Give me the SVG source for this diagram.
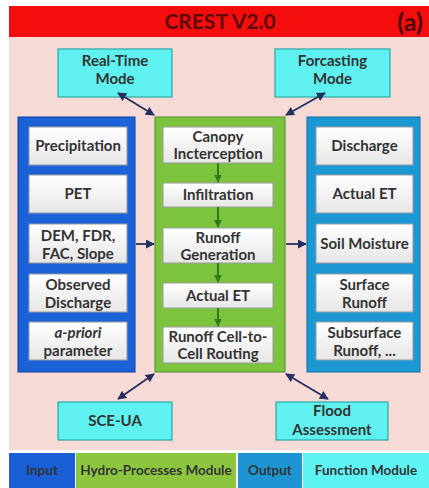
<svg xmlns="http://www.w3.org/2000/svg" width="429" height="488" viewBox="0 0 429 488">
<style>
text{font-family:Lato,"Open Sans","Liberation Sans",sans-serif;font-weight:bold;fill:#333;text-anchor:middle}
.t{font-size:15px}
.l{font-size:13.5px}
.wb{fill:url(#wg);stroke:#9a9a9a;stroke-width:1}
.fm{fill:#5ff0f0;stroke:#2aa7a7;stroke-width:1.2}
.lnk{stroke:#25305e;stroke-width:1.8;fill:none}
.gl{stroke:#2f7a1e;stroke-width:2;fill:none}
</style>
<defs>
<linearGradient id="wg" x1="0" y1="0" x2="0" y2="1">
<stop offset="0" stop-color="#ffffff"/><stop offset="1" stop-color="#e6e6e6"/>
</linearGradient>
<marker id="ah" viewBox="0 0 10 10" refX="9" refY="5" markerWidth="5" markerHeight="5" orient="auto-start-reverse">
<path d="M0,0 L10,5 L0,10 z" fill="#25305e"/>
</marker>
<marker id="ga" viewBox="0 0 10 10" refX="9" refY="5" markerWidth="4" markerHeight="4" orient="auto">
<path d="M0,0 L10,5 L0,10 z" fill="#2f7a1e"/>
</marker>
</defs>
<rect width="429" height="488" fill="#ffffff"/>
<rect x="9" y="37" width="420" height="413" fill="#f6dad6"/>
<g id="header">
<rect x="9" y="6" width="420" height="31" fill="#f30d0d"/>
<text x="220" y="29" style="font-size:21px;fill:#5e0808">CREST V2.0</text>
<text x="410" y="31" style="font-size:25px;fill:#4a0606">(a)</text>
</g>
<g id="input-panel">
<rect x="18" y="117" width="117" height="255" fill="#1b62d8" stroke="#0e3f9a" stroke-width="1"/>
<rect class="wb" x="29" y="127" width="98" height="38"/>
<text class="t" x="78" y="151">Precipitation</text>
<rect class="wb" x="29" y="175" width="98" height="38"/>
<text class="t" x="78" y="199">PET</text>
<rect class="wb" x="29" y="224" width="98" height="39"/>
<text class="t" x="78" y="241">DEM, FDR,</text>
<text class="t" x="78" y="259">FAC, Slope</text>
<rect class="wb" x="29" y="274" width="98" height="38"/>
<text class="t" x="78" y="290">Observed</text>
<text class="t" x="78" y="308">Discharge</text>
<rect class="wb" x="29" y="322" width="98" height="38"/>
<text class="t" x="78" y="338" style="font-style:italic">a-priori</text>
<text class="t" x="78" y="356">parameter</text>
</g>
<g id="hydro-panel">
<rect x="155" y="117" width="130" height="255" fill="#7cc43e" stroke="#4f8a2a" stroke-width="1"/>
<rect class="wb" x="163" y="127" width="110" height="36"/>
<text class="t" x="218" y="142">Canopy</text>
<text class="t" x="218" y="159">Incterception</text>
<rect class="wb" x="163" y="183" width="110" height="24"/>
<text class="t" x="218" y="200">Infiltration</text>
<rect class="wb" x="163" y="228" width="110" height="35"/>
<text class="t" x="218" y="243">Runoff</text>
<text class="t" x="218" y="260">Generation</text>
<rect class="wb" x="163" y="283" width="110" height="25"/>
<text class="t" x="218" y="301">Actual ET</text>
<rect class="wb" x="163" y="327" width="110" height="36"/>
<text class="t" x="218" y="342">Runoff Cell-to-</text>
<text class="t" x="218" y="359">Cell Routing</text>
<line class="gl" x1="218" y1="163" x2="218" y2="182" marker-end="url(#ga)"/>
<line class="gl" x1="218" y1="207" x2="218" y2="227" marker-end="url(#ga)"/>
<line class="gl" x1="218" y1="263" x2="218" y2="282" marker-end="url(#ga)"/>
<line class="gl" x1="218" y1="308" x2="218" y2="326" marker-end="url(#ga)"/>
</g>
<g id="output-panel">
<rect x="307" y="117" width="113" height="255" fill="#1b97d4" stroke="#0f6c9e" stroke-width="1"/>
<rect class="wb" x="316" y="127" width="97" height="38"/>
<text class="t" x="364.5" y="151">Discharge</text>
<rect class="wb" x="316" y="175" width="97" height="38"/>
<text class="t" x="364.5" y="199">Actual ET</text>
<rect class="wb" x="316" y="224" width="97" height="39"/>
<text class="t" x="364.5" y="249">Soil Moisture</text>
<rect class="wb" x="316" y="274" width="97" height="38"/>
<text class="t" x="364.5" y="290">Surface</text>
<text class="t" x="364.5" y="308">Runoff</text>
<rect class="wb" x="316" y="322" width="97" height="38"/>
<text class="t" x="364.5" y="338">Subsurface</text>
<text class="t" x="364.5" y="356">Runoff, ...</text>
</g>
<g id="realtime">
<rect class="fm" x="58" y="49" width="114" height="48"/>
<text class="t" x="115" y="66">Real-Time</text>
<text class="t" x="115" y="84">Mode</text>
</g>
<g id="forecasting">
<rect class="fm" x="275" y="49" width="115" height="48"/>
<text class="t" x="332.5" y="66">Forcasting</text>
<text class="t" x="332.5" y="84">Mode</text>
</g>
<g id="sceua">
<rect class="fm" x="58" y="402" width="114" height="38"/>
<text class="t" x="115" y="426">SCE-UA</text>
</g>
<g id="flood">
<rect class="fm" x="276" y="402" width="112" height="38"/>
<text class="t" x="332" y="416">Flood</text>
<text class="t" x="332" y="435">Assessment</text>
</g>
<g id="connectors">
<line class="lnk" x1="118" y1="93" x2="154" y2="115" marker-start="url(#ah)" marker-end="url(#ah)"/>
<line class="lnk" x1="325" y1="93" x2="286" y2="115" marker-start="url(#ah)" marker-end="url(#ah)"/>
<line class="lnk" x1="154" y1="374" x2="118" y2="399" marker-start="url(#ah)" marker-end="url(#ah)"/>
<line class="lnk" x1="286" y1="374" x2="328" y2="399" marker-start="url(#ah)" marker-end="url(#ah)"/>
<line class="lnk" x1="136" y1="244" x2="154" y2="244" marker-end="url(#ah)"/>
<line class="lnk" x1="286" y1="244" x2="306" y2="244" marker-end="url(#ah)"/>
</g>
<g id="legend">
<rect x="9" y="453" width="66" height="35" fill="#1a5fd6"/>
<text class="l" x="42" y="475">Input</text>
<rect x="76" y="453" width="160" height="35" fill="#8cc63f"/>
<text class="l" x="156" y="475">Hydro-Processes Module</text>
<rect x="238" y="453" width="64" height="35" fill="#1d95d2"/>
<text class="l" x="270" y="475">Output</text>
<rect x="303" y="453" width="126" height="35" fill="#5ef2f2"/>
<text class="l" x="366" y="475">Function Module</text>
</g>
</svg>
